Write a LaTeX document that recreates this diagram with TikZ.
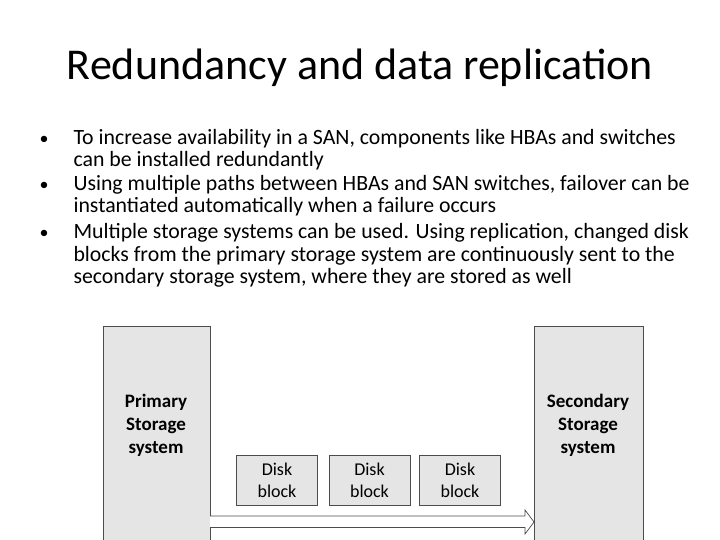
\documentclass[tikz,border=0pt]{standalone}
\usepackage{fontspec}
\setmainfont{Carlito}
\usetikzlibrary{shapes.arrows}
\begin{document}
\begin{tikzpicture}[x=1pt,y=-1pt,
  big/.style={draw=black!70,fill=black!10,line width=0.8pt},
  blk/.style={draw=black!70,fill=black!10,line width=0.8pt,minimum width=81pt,minimum height=50pt,align=center,font=\fontsize{18}{22}\selectfont},
  bul/.style={anchor=base west,font=\fontsize{21.8}{22}\selectfont},
  lbl/.style={align=center,font=\bfseries\fontsize{19}{23}\selectfont}]
\useasboundingbox (0,0) rectangle (720,540);
\node[font=\fontsize{44}{46}\selectfont] (title) at (360,68) {Redundancy and data replication};
\foreach \y in {145,191,239}{\node[anchor=base west,font=\fontsize{18}{22}\selectfont] at (36,\y) {•};}
\node[bul] (b1a) at (70,145) {To increase availability in a SAN, components like HBAs and switches};
\node[bul] (b1b) at (70,167) {can be installed redundantly};
\node[bul] (b2a) at (70,191) {Using multiple paths between HBAs and SAN switches, failover can be};
\node[bul] (b2b) at (70,213) {instantiated automatically when a failure occurs};
\node[bul] (b3a) at (70,239) {Multiple storage systems can be used. Using replication, changed disk};
\node[bul] (b3b) at (70,261) {blocks from the primary storage system are continuously sent to the};
\node[bul] (b3c) at (70,283) {secondary storage system, where they are stored as well};
\draw[big] (103,326) rectangle (210,545);
\draw[big] (534,326) rectangle (643,545);
\node[lbl] (p) at (156,425) {Primary\\Storage\\system};
\node[lbl] (s) at (588,425) {Secondary\\Storage\\system};
\node[blk] (d1) at (277,480) {Disk\\block};
\node[blk] (d2) at (369.5,480) {Disk\\block};
\node[blk] (d3) at (460,480) {Disk\\block};
\draw[black!70,fill=white,line width=0.7pt] (210,516) -- (525,516) -- (525,510) -- (534,522) -- (525,534) -- (525,527.5) -- (210,527.5);
\end{tikzpicture}
\end{document}
